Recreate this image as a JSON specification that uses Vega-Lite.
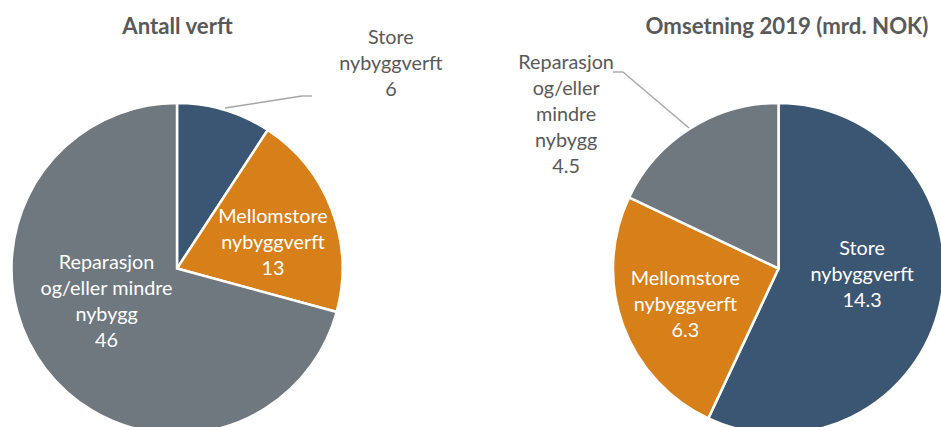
{
  "$schema": "https://vega.github.io/schema/vega-lite/v6.json",
  "width": 941,
  "height": 317,
  "autosize": {"type": "none"},
  "padding": {"top": 110, "left": 0, "right": 0, "bottom": 0},
  "background": "white",
  "config": {"view": {"stroke": null}, "font": "Lato"},
  "data": {
    "values": [
      {"chart": "Antall verft", "kategori": "Store nybyggverft", "navn": "Store\nnybyggverft", "order": 1, "value": 6},
      {"chart": "Antall verft", "kategori": "Mellomstore nybyggverft", "navn": "Mellomstore\nnybyggverft", "order": 2, "value": 13},
      {"chart": "Antall verft", "kategori": "Reparasjon og/eller mindre nybygg", "navn": "Reparasjon\nog/eller mindre\nnybygg", "order": 3, "value": 46},
      {"chart": "Omsetning 2019 (mrd. NOK)", "kategori": "Store nybyggverft", "navn": "Store\nnybyggverft", "order": 1, "value": 14.3},
      {"chart": "Omsetning 2019 (mrd. NOK)", "kategori": "Mellomstore nybyggverft", "navn": "Mellomstore\nnybyggverft", "order": 2, "value": 6.3},
      {"chart": "Omsetning 2019 (mrd. NOK)", "kategori": "Reparasjon og/eller mindre nybygg", "navn": "Reparasjon\nog/eller\nmindre\nnybygg", "order": 3, "value": 4.5}
    ]
  },
  "transform": [
    {"stack": "value", "groupby": ["chart"], "sort": [{"field": "order", "order": "ascending"}], "offset": "normalize", "as": ["v0", "v1"]},
    {"calculate": "(datum.v0 + datum.v1) / 2", "as": "vm"},
    {"calculate": "datum.navn + '\\n' + datum.value", "as": "etikett"}
  ],
  "encoding": {
    "x": {
      "field": "chart",
      "type": "nominal",
      "sort": ["Antall verft", "Omsetning 2019 (mrd. NOK)"],
      "scale": {"type": "point", "range": [177, 778.5], "padding": 0},
      "axis": {
        "orient": "top",
        "title": null,
        "domain": false,
        "ticks": false,
        "tickSize": 0,
        "grid": false,
        "labelPadding": 0,
        "offset": 77,
        "labelAngle": 0,
        "labelBaseline": "alphabetic",
        "labelFont": "Lato",
        "labelFontSize": 22.2,
        "labelFontWeight": "bold",
        "labelColor": "#595959",
        "labelLimit": 0,
        "labelOverlap": false,
        "labelFlush": false,
        "labelOffset": {"condition": {"test": "datum.value === 'Omsetning 2019 (mrd. NOK)'", "value": 8}, "value": 0}
      }
    }
  },
  "layer": [
    {
      "mark": {"type": "arc", "outerRadius": 165.5, "stroke": "white", "strokeWidth": 2.5},
      "encoding": {
        "theta": {"field": "v0", "type": "quantitative", "stack": null, "scale": {"domain": [0, 1], "zero": true, "nice": false}},
        "theta2": {"field": "v1"},
        "color": {
          "field": "kategori",
          "type": "nominal",
          "scale": {
            "domain": ["Store nybyggverft", "Mellomstore nybyggverft", "Reparasjon og/eller mindre nybygg"],
            "range": ["#3B5673", "#D77F18", "#6F777F"]
          },
          "legend": null
        }
      }
    },
    {
      "transform": [{"filter": "datum.chart === 'Antall verft' && datum.order === 2"}],
      "mark": {"type": "text", "radius": 100, "dx": 2.5, "dy": -16, "color": "white", "font": "Lato", "fontSize": 19.8, "lineBreak": "\n", "lineHeight": 26, "align": "center", "baseline": "middle"},
      "encoding": {
        "theta": {"field": "vm", "type": "quantitative", "stack": null},
        "text": {"field": "etikett"}
      }
    },
    {
      "transform": [{"filter": "datum.chart === 'Antall verft' && datum.order === 3"}],
      "mark": {"type": "text", "radius": 100, "dx": 9, "dy": -66, "color": "white", "font": "Lato", "fontSize": 19.8, "lineBreak": "\n", "lineHeight": 26, "align": "center", "baseline": "middle"},
      "encoding": {
        "theta": {"field": "vm", "type": "quantitative", "stack": null},
        "text": {"field": "etikett"}
      }
    },
    {
      "transform": [{"filter": "datum.chart !== 'Antall verft' && datum.order === 1"}],
      "mark": {"type": "text", "radius": 100, "dx": -14, "dy": -41, "color": "white", "font": "Lato", "fontSize": 19.8, "lineBreak": "\n", "lineHeight": 26, "align": "center", "baseline": "middle"},
      "encoding": {
        "theta": {"field": "vm", "type": "quantitative", "stack": null},
        "text": {"field": "etikett"}
      }
    },
    {
      "transform": [{"filter": "datum.chart !== 'Antall verft' && datum.order === 2"}],
      "mark": {"type": "text", "radius": 100, "dx": 1, "dy": -23, "color": "white", "font": "Lato", "fontSize": 19.8, "lineBreak": "\n", "lineHeight": 26, "align": "center", "baseline": "middle"},
      "encoding": {
        "theta": {"field": "vm", "type": "quantitative", "stack": null},
        "text": {"field": "etikett"}
      }
    },
    {
      "transform": [{"filter": "datum.chart === 'Antall verft' && datum.order === 1"}],
      "mark": {"type": "text", "radius": 213, "dx": 153, "dy": -26, "color": "#595959", "font": "Lato", "fontSize": 19.8, "lineBreak": "\n", "lineHeight": 26, "align": "center", "baseline": "middle"},
      "encoding": {
        "theta": {"field": "vm", "type": "quantitative", "stack": null},
        "text": {"field": "etikett"}
      }
    },
    {
      "transform": [{"filter": "datum.chart !== 'Antall verft' && datum.order === 3"}],
      "mark": {"type": "text", "radius": 180.5, "dx": -116, "dy": -53, "color": "#595959", "font": "Lato", "fontSize": 19.8, "lineBreak": "\n", "lineHeight": 26, "align": "center", "baseline": "middle"},
      "encoding": {
        "theta": {"field": "vm", "type": "quantitative", "stack": null},
        "text": {"field": "etikett"}
      }
    },
    {
      "transform": [{"filter": "datum.chart === 'Antall verft' && datum.order === 1"}],
      "mark": {"type": "rule", "color": "#A6A6A6", "strokeWidth": 1.4, "xOffset": 48, "x2Offset": 125, "yOffset": -160.5, "y2Offset": -172.5},
      "encoding": {
        "x2": {"field": "chart"},
        "y": {"value": {"expr": "height/2"}},
        "y2": {"value": {"expr": "height/2"}}
      }
    },
    {
      "transform": [{"filter": "datum.chart === 'Antall verft' && datum.order === 1"}],
      "mark": {"type": "rule", "color": "#A6A6A6", "strokeWidth": 1.4, "xOffset": 125, "x2Offset": 135, "yOffset": -172.5, "y2Offset": -172.5},
      "encoding": {
        "x2": {"field": "chart"},
        "y": {"value": {"expr": "height/2"}},
        "y2": {"value": {"expr": "height/2"}}
      }
    },
    {
      "transform": [{"filter": "datum.chart !== 'Antall verft' && datum.order === 3"}],
      "mark": {"type": "rule", "color": "#A6A6A6", "strokeWidth": 1.4, "xOffset": -89.5, "x2Offset": -155.5, "yOffset": -140.5, "y2Offset": -196.5},
      "encoding": {
        "x2": {"field": "chart"},
        "y": {"value": {"expr": "height/2"}},
        "y2": {"value": {"expr": "height/2"}}
      }
    },
    {
      "transform": [{"filter": "datum.chart !== 'Antall verft' && datum.order === 3"}],
      "mark": {"type": "rule", "color": "#A6A6A6", "strokeWidth": 1.4, "xOffset": -155.5, "x2Offset": -165.5, "yOffset": -196.5, "y2Offset": -196.5},
      "encoding": {
        "x2": {"field": "chart"},
        "y": {"value": {"expr": "height/2"}},
        "y2": {"value": {"expr": "height/2"}}
      }
    }
  ]
}
